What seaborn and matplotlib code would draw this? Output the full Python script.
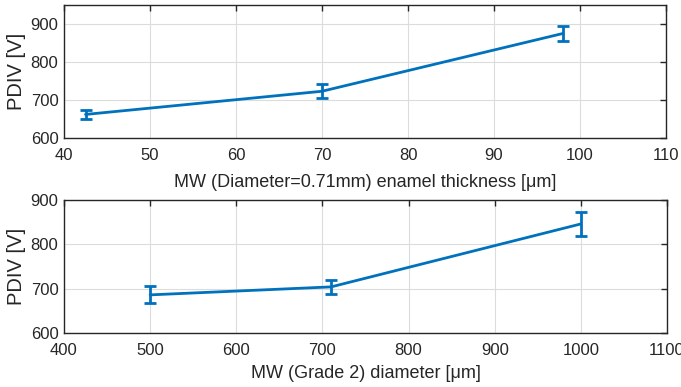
import matplotlib
matplotlib.use("Agg")
import matplotlib.pyplot as plt
import seaborn as sns
import pandas as pd
import numpy as np

# Top panel data
thickness = [42.5, 70, 98]
pdiv_thick = [662, 723, 875]
err_thick = [11, 18, 19]

# Bottom panel data
diameter = [500, 710, 1000]
pdiv_diam = [686, 704, 846]
err_diam = [19, 15, 28]

top_xticks = [40, 50, 60, 70, 80, 90, 100, 110]
top_yticks = [600, 700, 800, 900]
bot_xticks = [400, 500, 600, 700, 800, 900, 1000, 1100]
bot_yticks = [600, 700, 800, 900]

sns.set_theme(style="whitegrid")
plt.rcParams['font.family'] = ['Liberation Sans', 'DejaVu Sans']

color = "#0072BD"
W, H = 681, 387
fig = plt.figure(figsize=(W / 100, H / 100), dpi=100)

def axrect(l, t, r, b):
    return [l / W, 1 - b / H, (r - l) / W, (b - t) / H]

ax1 = fig.add_axes(axrect(64, 5, 666, 138))
ax2 = fig.add_axes(axrect(64, 200, 667, 333))

df1 = pd.DataFrame({"x": thickness, "y": pdiv_thick})
df2 = pd.DataFrame({"x": diameter, "y": pdiv_diam})

for ax, df, err, xt, yt, ylim, xlabel, lpad in [
    (ax1, df1, err_thick, top_xticks, top_yticks, (600, 950), "MW (Diameter=0.71mm) enamel thickness [μm]", 8),
    (ax2, df2, err_diam, bot_xticks, bot_yticks, (600, 900), "MW (Grade 2) diameter [μm]", 5),
]:
    sns.lineplot(data=df, x="x", y="y", ax=ax, color=color, linewidth=2.0)
    ax.errorbar(df["x"], df["y"], yerr=err, fmt="none", ecolor=color,
                elinewidth=2.0, capsize=4, capthick=2.0)
    ax.set_xlim(xt[0], xt[-1])
    ax.set_ylim(*ylim)
    ax.set_xticks(xt)
    ax.set_yticks(yt)
    ax.set_xlabel(xlabel, fontsize=13, color="#262626", labelpad=lpad)
    ax.set_ylabel("PDIV [V]", fontsize=14.5, color="#262626", labelpad=3)
    ax.tick_params(axis="both", labelsize=12, colors="#262626", direction="in",
                   length=4, width=1, top=True, right=True)
    ax.tick_params(axis="x", pad=7)
    ax.tick_params(axis="y", pad=4)
    ax.grid(True, color="#dcdcdc", linewidth=0.8)
    ax.set_facecolor("white")
    for s in ax.spines.values():
        s.set_visible(True)
        s.set_color("#262626")
        s.set_linewidth(1.0)

fig.savefig("out.png", dpi=100, facecolor="white")
